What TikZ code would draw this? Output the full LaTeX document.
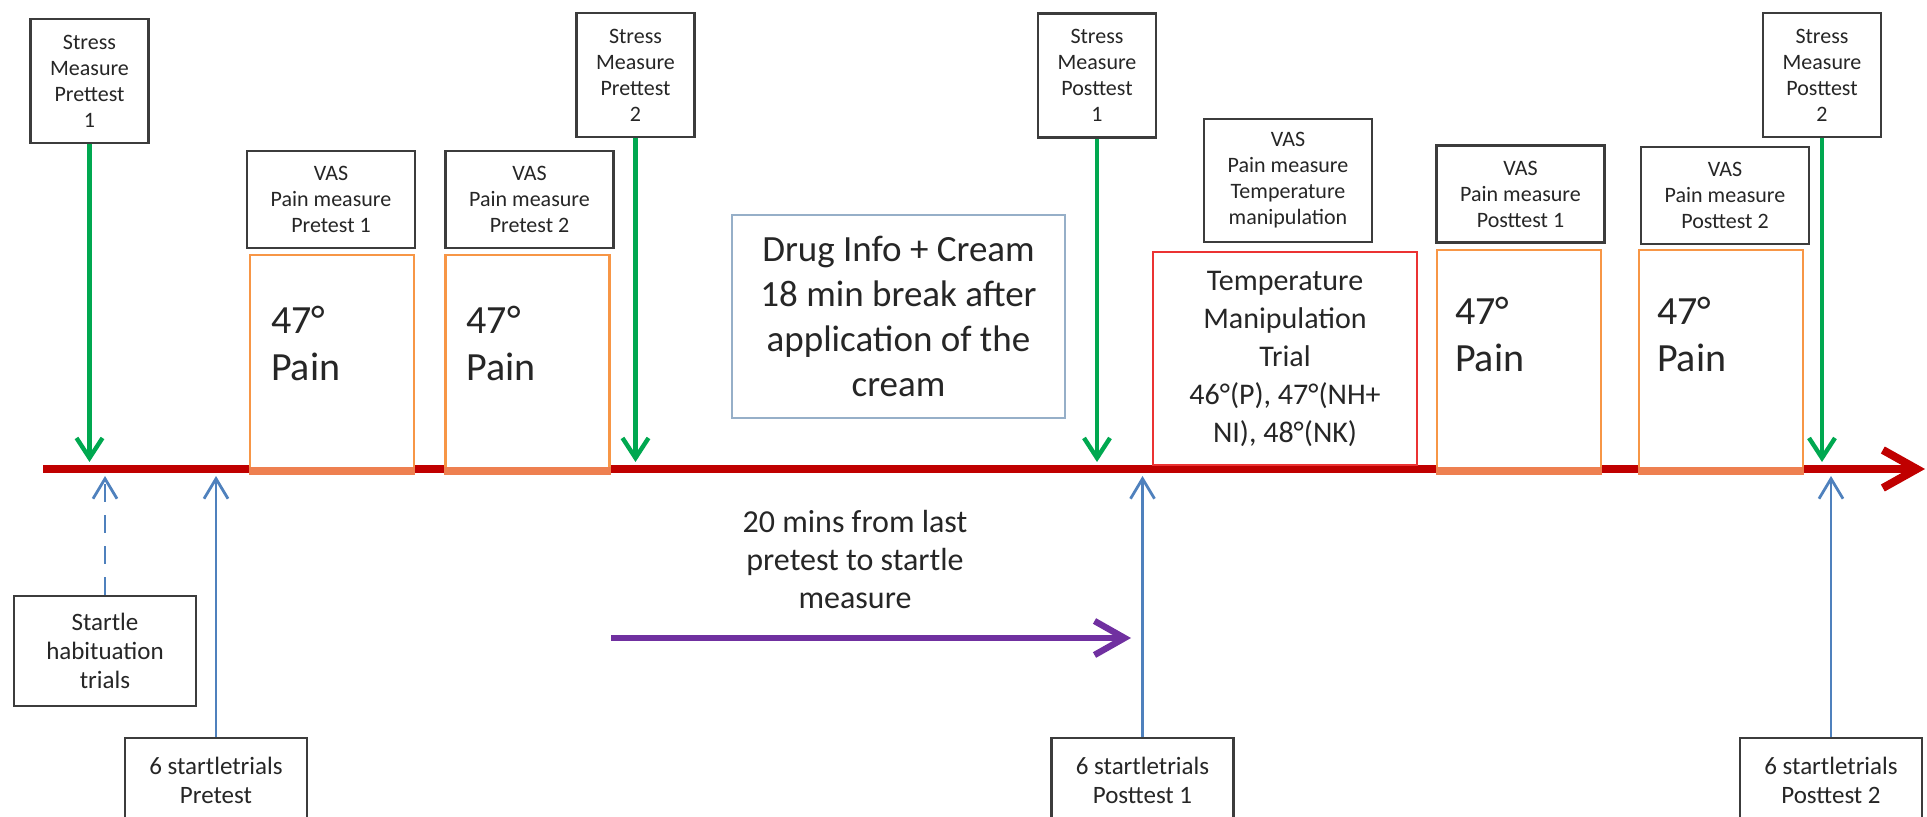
\documentclass[tikz,border=0pt]{standalone}
\usepackage{fontspec}
\setmainfont{Carlito}
\usepackage{tikz}
\usetikzlibrary{arrows.meta}
\usetikzlibrary{positioning}

\definecolor{lineRed}{RGB}{192,0,0}
\definecolor{stressGreen}{RGB}{0,168,80}
\definecolor{startleBlue}{RGB}{79,129,189}
\definecolor{gapPurple}{RGB}{112,48,160}
\definecolor{painOrange}{RGB}{247,150,70}
\definecolor{painBase}{RGB}{238,128,80}
\definecolor{drugBlue}{RGB}{150,175,200}
\definecolor{tempRed}{RGB}{235,50,50}
\definecolor{boxGray}{RGB}{60,60,60}

\tikzset{
  labelbox/.style={draw=boxGray, line width=1.2pt, fill=white, align=center, text=black!85, inner sep=1pt, font=\fontsize{11}{13}\selectfont},
  stressbox/.style={labelbox, minimum width=59pt, minimum height=62pt},
  vasbox/.style={labelbox, minimum width=84pt, minimum height=48.5pt},
  startlebox/.style={labelbox, font=\fontsize{12.5}{14.5}\selectfont, minimum width=91pt, minimum height=42pt},
  painbox/.style={draw=painOrange, line width=1.3pt, fill=white, minimum width=82pt, inner sep=0pt},
  paintext/.style={align=left, inner sep=0pt, text=black!85, font=\fontsize{20}{23.5}\selectfont},
  timeline/.style={draw=lineRed, line width=4pt, -{Straight Barb[length=17pt,width=19pt]}},
  painbase/.style={draw=painBase, line width=4pt},
  stressarrow/.style={draw=stressGreen, line width=2.2pt, -{Straight Barb[length=10pt,width=13pt]}},
  startlearrow/.style={draw=startleBlue, line width=1.4pt, -{Straight Barb[length=10pt,width=12pt]}},
  gaparrow/.style={draw=gapPurple, line width=3.2pt, -{Straight Barb[length=15pt,width=17pt]}},
}

\begin{document}
\begin{tikzpicture}[x=0.5pt,y=-0.5pt]

          \useasboundingbox (0,0) rectangle (1927,817); %画像の範囲
          \coordinate (TS) at (43,469); %時間軸の始点
          \coordinate (TL) at (1925,469); %時間軸の終点
          \coordinate (UP) at (0,462); %緑矢印の先端の高さ
          \coordinate (DN) at (0,476); %青矢印の先端の高さ
          \coordinate (GS) at (611,638); %紫矢印の始点
          \coordinate (GL) at (1131,638); %紫矢印の終点
          \draw[timeline] (TS)--(TL); %時間軸

          \node[stressbox] (SPre1) at (89.5,81) {Stress\\Measure\\Prettest\\1}; %ストレス測定1
          \node[stressbox] (SPre2) at (635.5,75) {Stress\\Measure\\Prettest\\2}; %ストレス測定2
          \node[stressbox] (SPost1) at (1097,75.5) {Stress\\Measure\\Posttest\\1}; %ストレス測定3
          \node[stressbox] (SPost2) at (1822,75) {Stress\\Measure\\Posttest\\2}; %ストレス測定4

          \node[vasbox] (VPre1) at (331,199.5) {VAS\\Pain measure\\Pretest 1}; %VAS1
          \node[vasbox] (VPre2) at (529.5,199.5) {VAS\\Pain measure\\Pretest 2}; %VAS2
          \node[vasbox, minimum height=61.5pt] (VT) at (1288,180.5) {VAS\\Pain measure\\Temperature\\manipulation}; %VAS温度操作
          \node[vasbox] (VPost1) at (1520.5,194) {VAS\\Pain measure\\Posttest 1}; %VAS3
          \node[vasbox] (VPost2) at (1725,195.5) {VAS\\Pain measure\\Posttest 2}; %VAS4

          \node[painbox, minimum height=107.5pt] (HPre1) at (332,362.5) {}; %痛み刺激1
          \node[painbox, minimum height=107.5pt] (HPre2) at (527.5,362.5) {}; %痛み刺激2
          \node[painbox, minimum height=110pt] (HPost1) at (1519,360) {}; %痛み刺激3
          \node[painbox, minimum height=110pt] (HPost2) at (1721,360) {}; %痛み刺激4
          \draw[painbase] (HPre1.south west)--(HPre1.south east); %刺激1の下端
          \draw[painbase] (HPre2.south west)--(HPre2.south east); %刺激2の下端
          \draw[painbase] (HPost1.south west)--(HPost1.south east); %刺激3の下端
          \draw[painbase] (HPost2.south west)--(HPost2.south east); %刺激4の下端
          \node[paintext, below right=26pt and 11pt of HPre1.north west] (PPre1) {47°\\Pain}; %刺激1の文字
          \node[paintext, below right=26pt and 11pt of HPre2.north west] (PPre2) {47°\\Pain}; %刺激2の文字
          \node[paintext, below right=24pt and 9.5pt of HPost1.north west] (PPost1) {47°\\Pain}; %刺激3の文字
          \node[paintext, below right=24pt and 9.5pt of HPost2.north west] (PPost2) {47°\\Pain}; %刺激4の文字

          \node[draw=drugBlue, line width=1.1pt, fill=white, align=center, text=black!85, minimum width=166.5pt, minimum height=101.5pt, font=\fontsize{18.5}{22.5}\selectfont] (D) at (898.5,316.5) {Drug Info + Cream\\18 min break after\\application of the\\cream}; %薬の説明
          \node[draw=tempRed, line width=0.8pt, fill=white, align=center, text=black!85, minimum width=132pt, minimum height=106.5pt, font=\fontsize{15}{19}\selectfont] (T) at (1285,358.5) {Temperature\\Manipulation\\Trial\\46°(P), 47°(NH+\\NI), 48°(NK)}; %温度操作

          \draw[stressarrow] (SPre1.south)--(SPre1.south |- UP); %緑矢印1
          \draw[stressarrow] (SPre2.south)--(SPre2.south |- UP); %緑矢印2
          \draw[stressarrow] (SPost1.south)--(SPost1.south |- UP); %緑矢印3
          \draw[stressarrow] (SPost2.south)--(SPost2.south |- UP); %緑矢印4

          \node[startlebox, minimum height=55pt] (SH) at (105,651) {Startle\\habituation\\trials}; %慣れ試行
          \node[startlebox] (STPre) at (216,780) {6 startletrials\\Pretest}; %驚愕試行1
          \node[startlebox] (STPost1) at (1142.5,780) {6 startletrials\\Posttest 1}; %驚愕試行2
          \node[startlebox] (STPost2) at (1831,780) {6 startletrials\\Posttest 2}; %驚愕試行3
          \draw[startlearrow, dash pattern=on 9pt off 6.5pt] (SH.north)--(SH.north |- DN); %青破線矢印
          \draw[startlearrow] (STPre.north)--(STPre.north |- DN); %青矢印1
          \draw[startlearrow] (STPost1.north)--(STPost1.north |- DN); %青矢印2
          \draw[startlearrow] (STPost2.north)--(STPost2.north |- DN); %青矢印3

          \node[align=center, text=black!85, font=\fontsize{16}{19}\selectfont] (G) at (855,560) {20 mins from last\\pretest to startle\\measure}; %間隔の説明
          \draw[gaparrow] (GS)--(GL); %紫矢印

        \end{tikzpicture}
\end{document}
